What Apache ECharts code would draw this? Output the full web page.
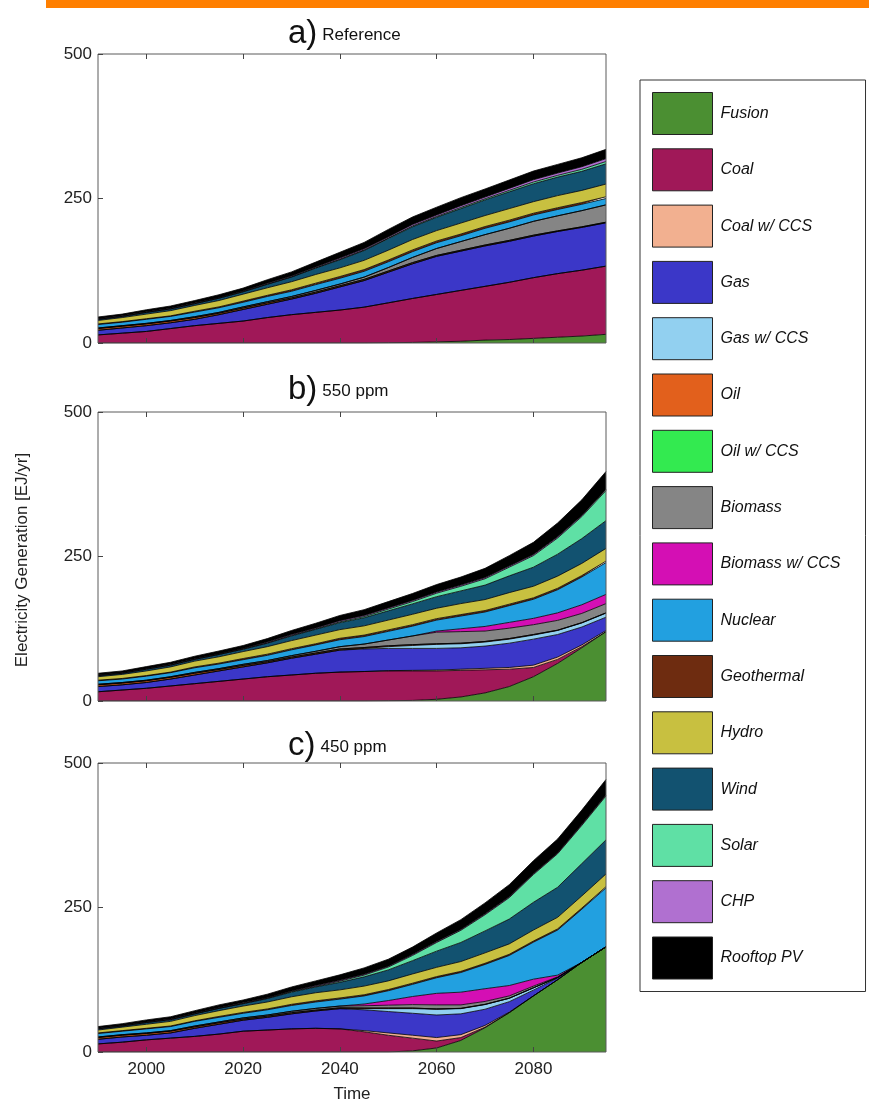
<!DOCTYPE html>
<html><head><meta charset="utf-8">
<script src="https://cdn.jsdelivr.net/npm/echarts@6/dist/echarts.min.js"></script>
<style>html,body{margin:0;padding:0;background:#fff}#c{width:869px;height:1107px}</style>
</head><body><div id="c"></div>
<script>
const years = [1990,1995,2000,2005,2010,2015,2020,2025,2030,2035,2040,2045,2050,2055,2060,2065,2070,2075,2080,2085,2090,2095];
const techNames = ['Fusion','Coal','Coal w/ CCS','Gas','Gas w/ CCS','Oil','Oil w/ CCS','Biomass','Biomass w/ CCS','Nuclear','Geothermal','Hydro','Wind','Solar','CHP','Rooftop PV'];
const techColors = ['#4b8f32','#a01858','#f2b090','#3b37c8','#92d0f0','#e2601c','#33ea50','#858585','#d40fb4','#22a0e0','#6e2c10','#c8c040','#125270','#5fe0a5','#b070d0','#000000'];
const yTicks = [0,250,500];
const panelTitles = [['a)','Reference'],['b)','550 ppm'],['c)','450 ppm']];
const Z = new Array(22).fill(0);

// a) Reference
const a_fusion  = [0,0,0,0,0,0,0,0,0,0,0,0,0.5,1,2,3,5,6,8,10,12,15];
const a_coal    = [14,17,20,25,30,34,38,44,49,53,57,62,69,76,82,88,93,99,105,110,114,118];
const a_coalccs = Z;
const a_gas     = [8,9,10,10,11,15,20,23,27,33,40,46,53,60,66,68,70,71,72,73,74,75];
const a_gasccs  = Z;
const a_oil     = [3,3,3,3,3,2.5,2.5,2.5,2,2,2,2,2,2,1.5,1.5,1.5,1.5,1.5,1,1,1];
const a_oilccs  = Z;
const a_biomass = [1,1,1,1,1.5,1.5,2,2,2.5,3,3,4,6,9,12,15,18,21,24,26,28,30];
const a_bioccs  = Z;
const a_nuclear = [6,6,7,7,8,8,8,9,9,10,10,10,10,10,10,10,11,11,11,11,11,11];
const a_geo     = [1,1,1,1,1.5,1.5,2,2,2.5,2.5,3,3,3,3,3,3,3,3,3,3,3,3];
const a_hydro   = [6,7,8,9,10,11,12,13,14,15,15,16,17,18,18,19,19,20,20,21,21,22];
const a_wind    = [2,2,3,3,3,4,4,6,8,11,14,17,20,22,23,25,27,29,31,32,33,35];
const a_solar   = [0,0,0,0,0,0,0.5,0.5,0.5,0.5,1,1,1,1.5,1.5,2,2,2.5,3,3,3.5,4];
const a_chp     = [1,1,1,1,1,1,1,1.5,1.5,1.5,2,2,2,2.5,2.5,3,3,3.5,4,4,4.5,5];
const a_roof    = [3,3,3.5,4,4.5,5,5,6,7,8.5,10,11,13,13,13.5,14,14,14.5,15,15,15.5,16];

// b) 550 ppm
const b_fusion  = [0,0,0,0,0,0,0,0,0,0,0,0,0.5,1,3,7,14,25,42,65,92,120];
const b_coal    = [16,19,22,26,30,34,38,42,45,48,50,51,51.5,51,49,46,40,30,16,7,2,0];
const b_coalccs = [0,0,0,0,0,0,0,0,0,0,0,0,0.5,1,1.5,2,2.5,3,4,4,3,2];
const b_gas     = [9,9,10,12,15,18,21,24,29,33,38,39,38.5,38,37.5,37,38.5,42,45,39,31,23];
const b_gasccs  = [0,0,0,0,0,0,0,0,0,0,0,1,3,5,7,7,7,7,7,7,7,7];
const b_oil     = [3,3,3,3,3,2.5,2.5,2,2,2,2,1.5,1.5,1.5,1,1,1,1,1,0.5,0.5,0.5];
const b_oilccs  = Z;
const b_biomass = [1,1,1,1,1.5,1.5,2,2,2.5,3,4,6,10,15,20,20,18,18,17,17,16,16];
const b_bioccs  = [0,0,0,0,0,0,0,0,0,0,0,0,0,0,2,5,8,10,11,13,15,16];
const b_nuclear = [6,6,7,7,8,8,8,9,10,11,12,13,15,17,19,22,25,29,33,40,48,55];
const b_geo     = [1,1,1,1,1.5,1.5,2,2,2,2,2.5,2.5,2.5,2.5,2.5,2.5,2.5,2.5,2.5,2.5,2.5,2.5];
const b_hydro   = [6,7,8,9,10,11,12,13,14,15,15,16,17,18,18,19,19,20,20,21,21,22];
const b_wind    = [2,2,3,3,3,4,4,6,8,10,12,14,16,18,20,22,25,29,33,38,43,48];
const b_solar   = [0,0,0,0,0,0,0.5,0.5,1,1,1.5,2,3,4,6,8,11,15,20,28,38,52];
const b_chp     = [1,1,1,1,1,1,1,1.5,1.5,1.5,2,2,2,2,2,2,2,2,2,2,2,2];
const b_roof    = [3,3,3.5,4,4.5,5,5,6,7,8,9,10,11,12,13,14,16,18,21,24,27,31];

// c) 450 ppm
const c_fusion  = [0,0,0,0,0,0,0,0,0,0,0,0,0,2,7,20,42,68,97,125,155,182];
const c_coal    = [14,17,21,24,27,31,36,38,40,41,40,35,29,22,12,5,1,0,0,0,0,0];
const c_coalccs = [0,0,0,0,0,0,0,0,0,0,0,2,4,5,6,5,3,1,0,0,0,0];
const c_gas     = [8,9,8,9,14,17,19,22,26,30,35,36,37,38,39,36,28,18,10,3,0,0];
const c_gasccs  = [0,0,0,0,0,0,0,0,0,0,0,2,5,8,10,9,8,6,4,1,0,0];
const c_oil     = [3,3,3,3,2.5,2.5,2,2,2,1.5,1.5,1,1,1,0.5,0.5,0.5,0,0,0,0,0];
const c_oilccs  = Z;
const c_biomass = [1,1,1,1,1.5,1.5,2,2,2.5,3,3,4,5,6,7,6,5,4,3,1,0,0];
const c_bioccs  = [0,0,0,0,0,0,0,0,0,0,0,3,8,14,20,22,22,18,12,3,0,0];
const c_nuclear = [6,6,7,7,8,8,8,9,10,11,12,14,17,21,27,34,42,52,64,78,92,102];
const c_geo     = [1,1,1,1,1,1.5,1.5,1.5,2,2,2,2,2,2,2,2,2,2,2,2,2,2];
const c_hydro   = [5,6,7,8,9,10,11,12,13,14,14,15,15,16,16,17,18,18,19,20,21,22];
const c_wind    = [2,2,3,3,3,4,4,6,8,10,13,16,19,23,28,33,38,43,48,52,56,59];
const c_solar   = [0,0,0,0,0,0,0.5,0.5,1,1,2,3,5,9,15,21,28,37,48,58,66,76];
const c_chp     = [1,1,1,1,1,1,1,1,1,1.5,1.5,1.5,1.5,1.5,1.5,1.5,1.5,1.5,1.5,1.5,1.5,1.5];
const c_roof    = [3,3,3.5,4,4.5,5,5,6,7,8,9.5,11,12,13,15,17,19,21,22.5,24,25,27];

const panelData = [
  [a_fusion,a_coal,a_coalccs,a_gas,a_gasccs,a_oil,a_oilccs,a_biomass,a_bioccs,a_nuclear,a_geo,a_hydro,a_wind,a_solar,a_chp,a_roof],
  [b_fusion,b_coal,b_coalccs,b_gas,b_gasccs,b_oil,b_oilccs,b_biomass,b_bioccs,b_nuclear,b_geo,b_hydro,b_wind,b_solar,b_chp,b_roof],
  [c_fusion,c_coal,c_coalccs,c_gas,c_gasccs,c_oil,c_oilccs,c_biomass,c_bioccs,c_nuclear,c_geo,c_hydro,c_wind,c_solar,c_chp,c_roof]
];

const FONT = 'Liberation Sans, Arial, sans-serif';
const gridTops = [54, 412, 763];
const gridH = 289;
const cats = years.map(String);
const every20 = (i, v) => (+v) % 20 === 0;

const grids = [], xAxes = [], yAxes = [], series = [], titles = [];
gridTops.forEach((top, p) => {
  grids.push({left: 98, top: top, width: 508, height: gridH, show: true, borderColor: '#5a5a5a', borderWidth: 1, backgroundColor: 'transparent', z: 10});
  xAxes.push({type: 'category', gridIndex: p, data: cats, boundaryGap: false, position: 'bottom',
    axisLine: {show: false},
    axisTick: {show: true, inside: true, length: 5, interval: every20, lineStyle: {color: '#444'}},
    axisLabel: {show: p === 2, interval: every20, fontFamily: FONT, fontSize: 17, color: '#222', margin: 9},
    name: p === 2 ? 'Time' : '', nameLocation: 'middle', nameGap: 34,
    nameTextStyle: {fontFamily: FONT, fontSize: 17, color: '#222'}, z: 10});
  xAxes.push({type: 'category', gridIndex: p, data: cats, boundaryGap: false, position: 'top',
    axisLine: {show: false}, axisLabel: {show: false},
    axisTick: {show: true, inside: true, length: 5, interval: every20, lineStyle: {color: '#444'}}, z: 10});
  yAxes.push({type: 'value', gridIndex: p, min: yTicks[0], max: yTicks[2], interval: 250,
    axisLine: {show: false}, splitLine: {show: false},
    axisTick: {show: true, inside: true, length: 5, lineStyle: {color: '#444'}},
    axisLabel: {fontFamily: FONT, fontSize: 17, color: '#222', margin: 6}, z: 10});
  panelData[p].forEach((arr, k) => {
    series.push({
      name: techNames[k], type: 'line', xAxisIndex: p * 2, yAxisIndex: p, stack: 'p' + p,
      data: arr, symbol: 'none', smooth: false, silent: true,
      itemStyle: {color: techColors[k]},
      lineStyle: {color: '#000', width: 0.8},
      areaStyle: {color: techColors[k], opacity: 1},
      z: 2
    });
  });
});

const titleY = [12, 368, 724];
panelTitles.forEach((t, p) => {
  titles.push({
    text: '{big|' + t[0] + '} {small|' + t[1] + '}',
    left: 283, top: titleY[p],
    textStyle: {fontWeight: 'normal', rich: {
      big: {fontFamily: FONT, fontSize: 33, fontWeight: 'normal', color: '#111', verticalAlign: 'bottom'},
      small: {fontFamily: FONT, fontSize: 17, fontWeight: 'normal', color: '#111', verticalAlign: 'bottom', padding: [0,0,6,0]}
    }}
  });
});

const chart = echarts.init(document.getElementById('c'), null, {renderer: 'canvas'});
chart.setOption({
  animation: false,
  backgroundColor: '#fff',
  title: titles,
  grid: grids, xAxis: xAxes, yAxis: yAxes, series: series,
  legend: {
    orient: 'vertical', left: 640, top: 80,
    icon: 'rect', itemWidth: 60, itemHeight: 42, itemGap: 13.3,
    padding: [12, 25, 12, 12],
    borderColor: '#333', borderWidth: 1, backgroundColor: '#fff',
    selectedMode: false,
    textStyle: {fontFamily: FONT, fontSize: 16, fontStyle: 'italic', color: '#111', padding: [0,0,0,3]},
    data: techNames.map((n, k) => ({name: n, itemStyle: {color: techColors[k], borderColor: '#222', borderWidth: 1}}))
  },
  graphic: [
    {type: 'rect', shape: {x: 46, y: 0, width: 823, height: 8}, style: {fill: '#ff7f00'}},
    {type: 'text', x: 22, y: 560, rotation: Math.PI / 2, style: {text: 'Electricity Generation [EJ/yr]', fontFamily: FONT, fontSize: 17, fill: '#222', textAlign: 'center', textVerticalAlign: 'middle'}}
  ]
});
</script></body></html>
